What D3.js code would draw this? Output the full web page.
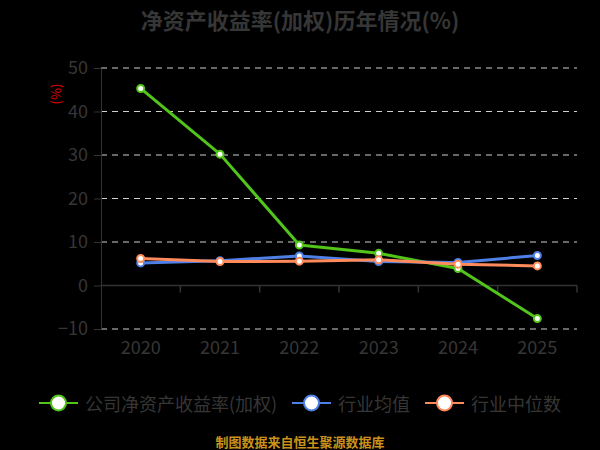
<!DOCTYPE html>
<html>
<head>
<meta charset="utf-8">
<script src="https://cdn.jsdelivr.net/npm/d3@7"></script>
<style>
  html, body { margin: 0; padding: 0; background: #000; }
  svg { display: block; font-family: "Noto Sans CJK SC", "Noto Sans", sans-serif; }
</style>
</head>
<body>
<div id="chart"></div>
<script>
// data
const years = ["2020", "2021", "2022", "2023", "2024", "2025"]
const company = [45.3, 30.2, 9.3, 7.4, 3.9, -7.6]
const industryAvg = [5.2, 5.7, 6.8, 5.5, 5.3, 6.9]
const industryMedian = [6.2, 5.5, 5.6, 5.9, 4.9, 4.5]
const yTicks = [-10, 0, 10, 20, 30, 40, 50]
const seriesNames = ["公司净资产收益率(加权)", "行业均值", "行业中位数"]
const seriesColors = ["#52c41a", "#4f80e6", "#ff8a5b"]

const W = 600, H = 450
const plot = {left: 101, right: 577, top: 68, bottom: 329}

const svg = d3.select("#chart").append("svg")
  .attr("width", W).attr("height", H)

svg.append("rect").attr("width", W).attr("height", H).attr("fill", "#000")

const x = d3.scaleBand().domain(years).range([plot.left, plot.right]).padding(0)
const y = d3.scaleLinear().domain([-10, 50]).range([plot.bottom, plot.top])

// title
svg.append("text")
  .attr("x", W / 2).attr("y", 19)
  .attr("text-anchor", "middle")
  .attr("dominant-baseline", "central")
  .attr("font-size", 22).attr("font-weight", "bold")
  .attr("fill", "#363636")
  .text("净资产收益率(加权)历年情况(%)")

// unit label
svg.append("text")
  .attr("transform", "translate(55,94) rotate(-90)")
  .attr("text-anchor", "middle")
  .attr("dominant-baseline", "central")
  .attr("font-size", 13)
  .attr("fill", "#e00000")
  .text("(%)")

// dashed grid
svg.append("g")
  .selectAll("line")
  .data(yTicks.filter(d => d !== 0))
  .enter().append("line")
    .attr("x1", plot.left).attr("x2", plot.right)
    .attr("y1", d => y(d)).attr("y2", d => y(d))
    .attr("stroke", "#d0d0d0")
    .attr("stroke-width", 1)
    .attr("stroke-dasharray", "6,5")

// y axis
const yAxis = svg.append("g")
  .attr("transform", `translate(${plot.left},0)`)
  .call(d3.axisLeft(y).tickValues(yTicks).tickSize(7).tickPadding(6).tickSizeOuter(0))
yAxis.select(".domain").attr("stroke", "#333")
yAxis.selectAll(".tick line").attr("stroke", "#333")
yAxis.selectAll("text").attr("fill", "#363636").attr("font-size", 18)
  .attr("font-family", '"Noto Sans CJK SC", sans-serif')

// zero line with ticks at band edges
const zero = svg.append("g").attr("transform", `translate(0,${y(0)})`)
zero.append("line").attr("x1", plot.left).attr("x2", plot.right).attr("stroke", "#333").attr("stroke-width", 1.5)
zero.selectAll(".edge")
  .data(years)
  .enter().append("line")
    .attr("class", "edge")
    .attr("x1", d => x(d) + x.step()).attr("x2", d => x(d) + x.step())
    .attr("y1", 0).attr("y2", 7)
    .attr("stroke", "#333").attr("stroke-width", 1.5)

// x labels
const xAxis = svg.append("g")
  .attr("transform", `translate(0,${plot.bottom})`)
  .call(d3.axisBottom(x).tickSize(0).tickPadding(12))
xAxis.select(".domain").remove()
xAxis.selectAll("text").attr("fill", "#363636").attr("font-size", 18)
  .attr("font-family", '"Noto Sans CJK SC", sans-serif')

// series
const allSeries = [company, industryAvg, industryMedian]
const line = d3.line()
  .x((d, i) => x(years[i]) + x.bandwidth() / 2)
  .y(d => y(d))

allSeries.forEach((vals, k) => {
  svg.append("path")
    .datum(vals)
    .attr("d", line)
    .attr("fill", "none")
    .attr("stroke", seriesColors[k])
    .attr("stroke-width", 3)
    .attr("stroke-linejoin", "round")
  svg.append("g")
    .selectAll("circle")
    .data(vals)
    .enter().append("circle")
      .attr("cx", (d, i) => x(years[i]) + x.bandwidth() / 2)
      .attr("cy", d => y(d))
      .attr("r", 3.5)
      .attr("fill", "#fff")
      .attr("stroke", seriesColors[k])
      .attr("stroke-width", 2)
})

// legend
const legendX = [39, 292, 425]
const legend = svg.append("g").attr("transform", "translate(0,403)")
seriesNames.forEach((name, k) => {
  const g = legend.append("g").attr("transform", `translate(${legendX[k]},0)`)
  g.append("line").attr("x1", 0).attr("x2", 39)
    .attr("stroke", seriesColors[k]).attr("stroke-width", 2)
  g.append("circle").attr("cx", 19.5).attr("cy", 0).attr("r", 7.5)
    .attr("fill", "#fff").attr("stroke", seriesColors[k]).attr("stroke-width", 2)
  g.append("text").attr("x", 46).attr("y", 0)
    .attr("dominant-baseline", "central")
    .attr("font-size", 18).attr("fill", "#363636")
    .text(name)
})

// source note
svg.append("text")
  .attr("x", W / 2).attr("y", 441)
  .attr("text-anchor", "middle")
  .attr("dominant-baseline", "central")
  .attr("font-size", 13).attr("font-weight", "bold")
  .attr("fill", "#c8921c")
  .text("制图数据来自恒生聚源数据库")
</script>
</body>
</html>
